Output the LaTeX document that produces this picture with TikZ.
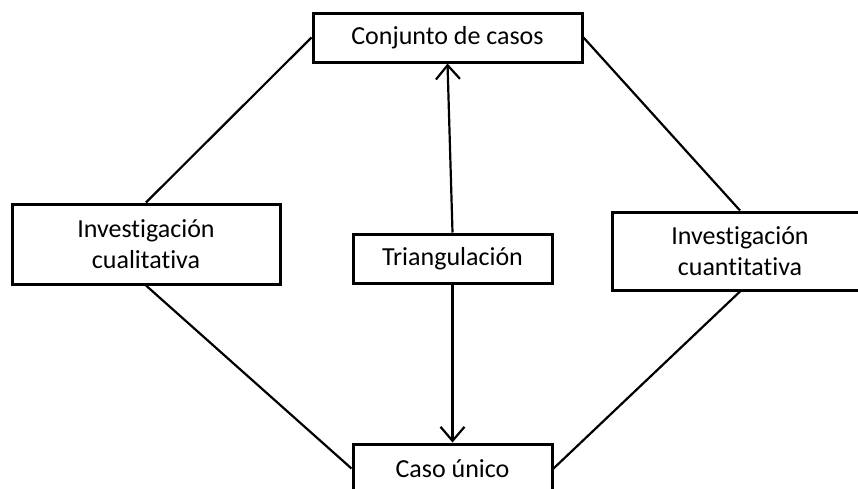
\documentclass[tikz,border=0pt]{standalone}
\usepackage{fontspec}
\setmainfont{Carlito}[Ligatures={TeX,NoCommon}]
\usetikzlibrary{arrows.meta}

\begin{document}
\begin{tikzpicture}[
		x=1pt,
		y=-1pt,
		caja/.style={draw, line width=3pt, inner sep=0pt, align=center,
			font=\fontsize{26}{31}\selectfont},
		enlace/.style={line width=2.2pt},
		flecha/.style={line width=2.2pt, -{Straight Barb[length=14pt,width=24pt,line width=2.2pt]}}
	]
		\useasboundingbox (0,0) rectangle (858,488);
		\clip (0,0) rectangle (858,488);
		\node[caja, minimum width=269pt, minimum height=49pt] (casos) at (447.5,37.5) {Conjunto de casos};
		\node[caja, minimum width=268pt, minimum height=80pt] (cuali) at (146,244) {Investigación\\cualitativa};
		\node[caja, minimum width=199pt, minimum height=49pt] (tri) at (452.5,258.5) {Triangulación};
		\node[caja, minimum width=256pt, minimum height=78pt] (cuanti) at (740,251) {Investigación\\cuantitativa};
		\node[caja, minimum width=199pt, minimum height=49pt] (unico) at (452.5,468.5) {Caso único};
		% lados del rombo
		\draw[enlace] (casos.west) -- (cuali.north);
		\draw[enlace] (cuali.south) -- (unico.west);
		\draw[enlace] (casos.east) -- (cuanti.north);
		\draw[enlace] (cuanti.south) -- (unico.east);
		% flechas
		\draw[flecha] (tri.north) -- (casos.south);
		\draw[flecha] (tri.south) -- (unico.north);
	\end{tikzpicture}
\end{document}
